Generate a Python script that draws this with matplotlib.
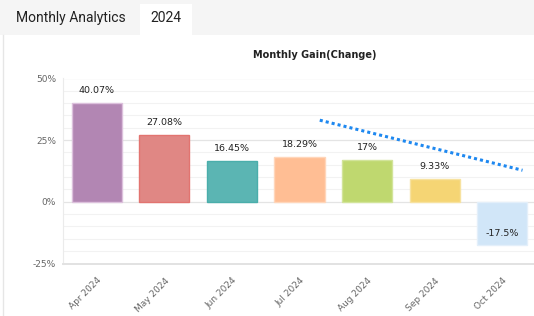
import matplotlib
matplotlib.use("Agg")
import matplotlib.pyplot as plt
from matplotlib.patches import Rectangle
from matplotlib.lines import Line2D
import numpy as np

# data
months = ["Apr 2024", "May 2024", "Jun 2024", "Jul 2024", "Aug 2024", "Sep 2024", "Oct 2024"]
gains = [40.07, 27.08, 16.45, 18.29, 17.0, 9.33, -17.5]
labels = ["40.07%", "27.08%", "16.45%", "18.29%", "17%", "9.33%", "-17.5%"]
bar_colors = ["#b286b3", "#e08784", "#5bb5b3", "#ffbe94", "#bfd86f", "#f5d574", "#d1e6f8"]
edge_colors = ["#dcc0dc", "#e27470", "#4aaeab", "#ffd6ba", "#d2e49a", "#f7e2a0", "#e3effa"]
trend_x = [3.3, 6.3]
trend_y = [33.1, 12.8]

W, H = 534, 316
fig = plt.figure(figsize=(W / 100, H / 100), dpi=100)
fig.patch.set_facecolor("white")

# header bar with tab
fig.patches.append(Rectangle((0, 1 - 35 / H), 1, 35 / H, transform=fig.transFigure,
                             facecolor="#f5f5f5", edgecolor="none", zorder=0))
fig.patches.append(Rectangle((140 / W, 1 - 35 / H), 52 / W, 31 / H, transform=fig.transFigure,
                             facecolor="white", edgecolor="none", zorder=1))
fig.text(16 / W, 1 - 18 / H, "Monthly Analytics", fontsize=10, color="#222222",
         family="Roboto", va="center", ha="left")
fig.text(166 / W, 1 - 18 / H, "2024", fontsize=10, color="#222222",
         family="Roboto", va="center", ha="center")
# card left border
fig.lines.append(Line2D([2.5 / W, 2.5 / W], [0, 1 - 35 / H], transform=fig.transFigure,
                        color="#e6e6e6", lw=1))

fig.text(315 / W, 1 - 55 / H, "Monthly Gain(Change)", fontsize=7, fontweight="bold",
         color="#222222", ha="center", va="center")

ax = fig.add_axes([63 / W, (H - 263.5) / H, 473 / W, 185 / H])
x = np.arange(len(months))
ax.bar(x, gains, width=0.74, color=bar_colors, edgecolor=edge_colors, linewidth=1, zorder=3)

for xi, v, lab in zip(x, gains, labels):
    if v >= 0:
        ax.text(xi, v + 3.2, lab, ha="center", va="bottom", fontsize=6.8, color="#222222", zorder=4)
    else:
        ax.text(xi, v + 4.8, lab, ha="center", va="center", fontsize=6.8, color="#222222", zorder=4)

ax.plot(trend_x, trend_y, color="#1e88f0", lw=2.2, linestyle=(0, (1, 1)),
        solid_capstyle="butt", dash_capstyle="butt", zorder=5)

ax.set_xlim(-0.5, len(months) - 0.5)
ax.set_ylim(-25, 50)
ax.set_yticks([-25, 0, 25, 50])
ax.set_yticklabels(["-25%", "0%", "25%", "50%"])
ax.set_yticks(np.arange(-25, 51, 5), minor=True)
ax.grid(axis="y", which="minor", color="#f2f2f2", lw=0.8, zorder=0)
ax.grid(axis="y", which="major", color="#e4e4e4", lw=0.9, zorder=0)
ax.tick_params(axis="y", which="both", length=0, labelsize=6.5, labelcolor="#666666", pad=5)

ax.set_xticks(x)
ax.set_xticklabels(months, rotation=45, ha="right", rotation_mode="anchor")
ax.tick_params(axis="x", length=0, labelsize=6.5, labelcolor="#666666", pad=9)

for side in ["top", "right"]:
    ax.spines[side].set_visible(False)
ax.spines["left"].set_color("#ebebeb")
ax.spines["bottom"].set_color("#e2e2e2")
ax.spines["bottom"].set_linewidth(1.4)
ax.set_facecolor("white")

fig.savefig("out.png", dpi=100)
